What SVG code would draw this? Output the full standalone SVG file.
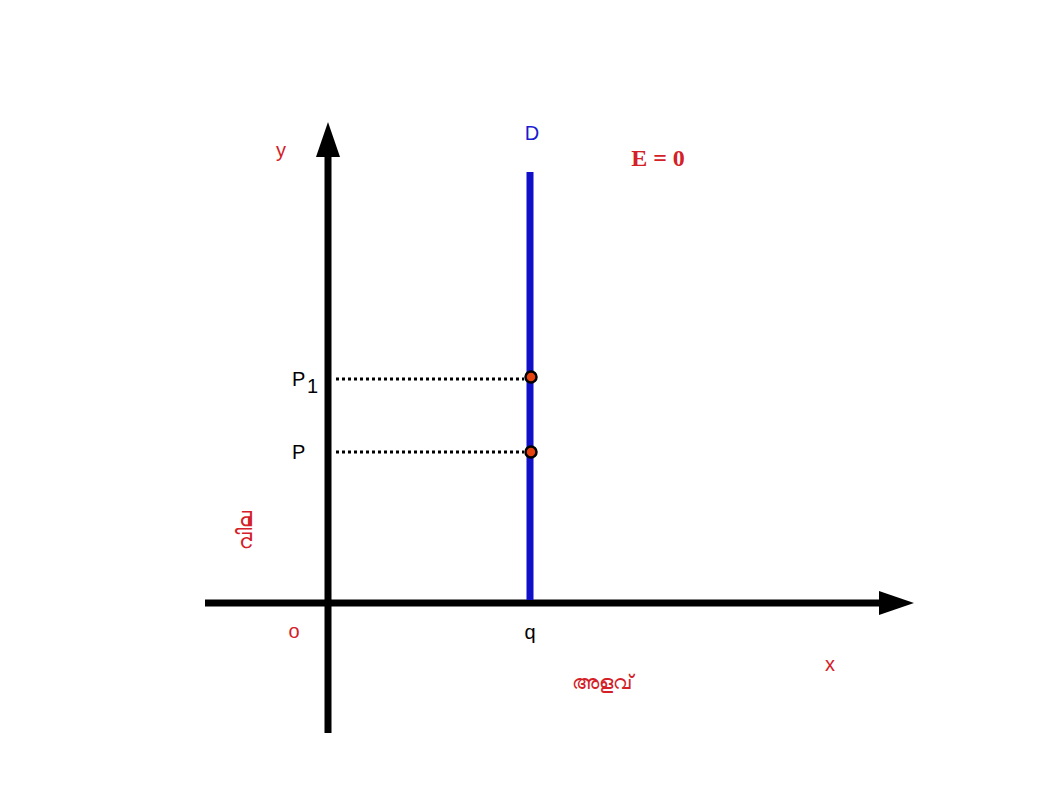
<svg xmlns="http://www.w3.org/2000/svg" width="1058" height="794" viewBox="0 0 1058 794">
<style>
.r{fill:#d42027;font-family:"Liberation Sans","Noto Sans",sans-serif;font-size:20px}
.k{fill:#000;font-family:"Liberation Sans",sans-serif;font-size:20px}
.dot{fill:#e8420e;stroke:#000;stroke-width:2.5}
</style>
<defs>
<marker id="ah" markerWidth="10" markerHeight="10" refX="0" refY="5" orient="auto" markerUnits="userSpaceOnUse" viewBox="0 0 10 10"><path d="M0,0 L10,5 L0,10 z"/></marker>
</defs>
<rect width="1058" height="794" fill="#fff"/>
<g id="connectors">
<line x1="328" y1="733" x2="328" y2="156" stroke="#000" stroke-width="7"/>
<path d="M316,157 L328,122 L340,157 z"/>
<line x1="205" y1="603" x2="880" y2="603" stroke="#000" stroke-width="7"/>
<path d="M879,591 L914,603 L879,615 z"/>
<line x1="530" y1="172" x2="530" y2="600" stroke="#1010c8" stroke-width="7"/>
<line x1="336" y1="379" x2="524" y2="379" stroke="#000" stroke-width="3" stroke-dasharray="3,3"/>
<line x1="336" y1="452" x2="524" y2="452" stroke="#000" stroke-width="3" stroke-dasharray="3,3"/>
</g>
<g id="p1"><circle class="dot" cx="531" cy="377" r="5.5"/></g>
<g id="p"><circle class="dot" cx="531" cy="452" r="5.5"/></g>
<g id="labels">
<text class="r" x="281" y="157" text-anchor="middle">y</text>
<text x="532" y="140" text-anchor="middle" font-family="Liberation Sans,sans-serif" font-size="20" fill="#1a1ad0">D</text>
<text x="658" y="166" text-anchor="middle" font-family="Liberation Serif,serif" font-size="24" font-weight="bold" fill="#d42027">E = 0</text>
<text class="k" x="292" y="386">P</text>
<text class="k" x="307" y="393" font-size="12">1</text>
<text class="k" x="292" y="459">P</text>
<text class="r" x="294" y="638" text-anchor="middle">o</text>
<text class="k" x="530" y="639" text-anchor="middle">q</text>
<text class="r" x="830" y="671" text-anchor="middle">x</text>
<text class="r" x="602" y="689" text-anchor="middle">അളവ്</text>
<text class="r" transform="translate(252,530) rotate(-90)" text-anchor="middle">വില</text>
</g>
</svg>
